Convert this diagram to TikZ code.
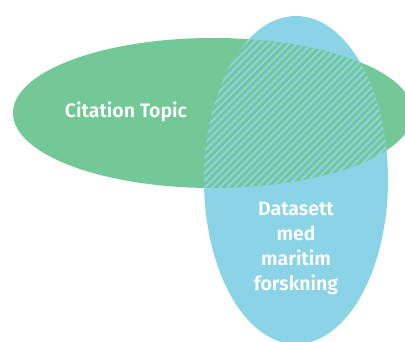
\documentclass[tikz,border=0pt]{standalone}
\usepackage{fontspec}
\setmainfont{Fira Sans}[BoldFont={Fira Sans SemiBold}]
\definecolor{vgreen}{HTML}{72C997}
\definecolor{vblue}{HTML}{8BD3E6}
\tikzset{
  lbl/.style={text=white, font=\bfseries\fontsize{19.5}{25}\selectfont, align=center},
  hatchline/.style={draw=vblue, line width=2pt}
}
\begin{document}
\begin{tikzpicture}[x=1pt,y=-1pt]
  \useasboundingbox[fill=white] (0,0) rectangle (405,342);
  \begin{scope}
    \clip (0,0) rectangle (405,342);
    % the two sets
    \fill[vgreen] (213,113) ellipse[x radius=200, y radius=75];
    \fill[vblue] (296,180) ellipse[x radius=92, y radius=164];
    % hatched overlap
    \begin{scope}
      \clip (213,113) ellipse[x radius=200, y radius=75];
      \clip (296,180) ellipse[x radius=92, y radius=164];
      \fill[vgreen] (200,20) rectangle (400,200);
      \foreach \k in {0,...,70} {
        \draw[hatchline] ({-20+7.4*\k},220) -- ++(220,-220);
      }
    \end{scope}
  \end{scope}
  \node[lbl] (ct) at (126,112) {Citation Topic};
  \node[lbl] (ds) at (296,248) {Datasett\\med\\maritim\\forskning};
\end{tikzpicture}
\end{document}
